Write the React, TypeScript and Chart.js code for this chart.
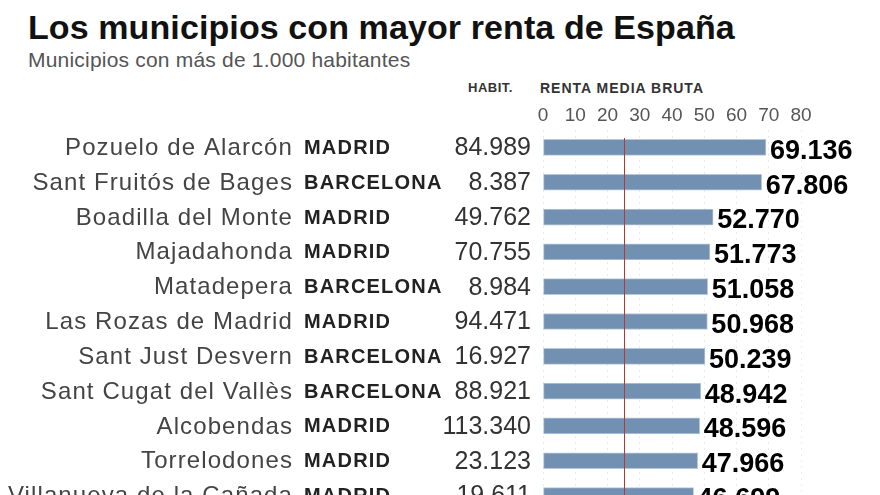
import React, { useEffect, useRef } from "react";
import { Chart, registerables } from "chart.js";

Chart.register(...registerables);

const municipios = [
  "Pozuelo de Alarcón",
  "Sant Fruitós de Bages",
  "Boadilla del Monte",
  "Majadahonda",
  "Matadepera",
  "Las Rozas de Madrid",
  "Sant Just Desvern",
  "Sant Cugat del Vallès",
  "Alcobendas",
  "Torrelodones",
  "Villanueva de la Cañada",
];
const provincias = [
  "MADRID",
  "BARCELONA",
  "MADRID",
  "MADRID",
  "BARCELONA",
  "MADRID",
  "BARCELONA",
  "BARCELONA",
  "MADRID",
  "MADRID",
  "MADRID",
];
const habitantes = [84989, 8387, 49762, 70755, 8984, 94471, 16927, 88921, 113340, 23123, 19611];
const rentaMedia = [69136, 67806, 52770, 51773, 51058, 50968, 50239, 48942, 48596, 47966, 46699];
const xTicks = [0, 10, 20, 30, 40, 50, 60, 70, 80];
const rentaReferencia = 25.2; // miles de euros (línea roja)

const fmt = (n: number) => String(n).replace(/\B(?=(\d{3})+(?!\d))/g, ".");

const FONT = '"Liberation Sans", Arial, Helvetica, sans-serif';

const tablePlugin = {
  id: "tablePlugin",
  afterDatasetsDraw(chart: any) {
    const { ctx, scales, chartArea } = chart;
    const x = scales.x;
    const y = scales.y;
    ctx.save();
    const rx = Math.round(x.getPixelForValue(rentaReferencia)) + 0.5;
    ctx.strokeStyle = "#b23a30";
    ctx.lineWidth = 1;
    ctx.beginPath();
    ctx.moveTo(rx, chartArea.top + 8);
    ctx.lineTo(rx, chartArea.bottom);
    ctx.stroke();

    ctx.textBaseline = "middle";
    municipios.forEach((name, i) => {
      const yy = y.getPixelForValue(i);
      ctx.font = `24px ${FONT}`;
      (ctx as any).letterSpacing = "1.1px";
      ctx.fillStyle = "#444";
      ctx.textAlign = "right";
      ctx.fillText(name, 293, yy + 1);
      ctx.font = `bold 20px ${FONT}`;
      (ctx as any).letterSpacing = "1.2px";
      ctx.fillStyle = "#222";
      ctx.textAlign = "left";
      ctx.fillText(provincias[i], 304, yy + 1);
      ctx.font = `25px ${FONT}`;
      (ctx as any).letterSpacing = "0px";
      ctx.fillStyle = "#333";
      ctx.textAlign = "right";
      ctx.fillText(fmt(habitantes[i]), 531, yy + 1);
      ctx.font = `bold 27px ${FONT}`;
      ctx.fillStyle = "#000";
      ctx.textAlign = "left";
      ctx.fillText(fmt(rentaMedia[i]), x.getPixelForValue(rentaMedia[i] / 1000) + 4, yy + 4);
    });
    ctx.restore();
  },
};

export default function App() {
  const ref = useRef<HTMLCanvasElement | null>(null);
  useEffect(() => {
    if (!ref.current) return;
    const chart = new Chart(ref.current, {
      type: "bar",
      data: {
        labels: municipios,
        datasets: [
          {
            data: rentaMedia.map((v) => v / 1000),
            backgroundColor: "#7190b2",
            borderColor: "#b8c8da",
            borderWidth: 1,
            borderSkipped: false,
            barThickness: 16,
          },
        ],
      },
      options: {
        indexAxis: "y",
        animation: false,
        responsive: false,
        devicePixelRatio: 1,
        layout: { padding: { left: 543, right: 79, top: 100, bottom: 17 } },
        plugins: { legend: { display: false }, tooltip: { enabled: false }, title: { display: false } },
        scales: {
          x: {
            position: "top",
            min: 0,
            max: 80,
            afterBuildTicks: (scale: any) => {
              scale.ticks = xTicks.map((v) => ({ value: v }));
            },
            afterFit: (scale: any) => {
              scale.height = 30;
            },
            ticks: {
              padding: 3,
              color: "#555",
              font: { family: FONT, size: 19 },
              maxRotation: 0,
              autoSkip: false,
            },
            grid: { color: "#ebebeb", drawTicks: false, lineWidth: 1 },
            border: { display: false, dash: [2, 4] },
          },
          y: { display: false, grid: { display: false } },
        },
      },
      plugins: [tablePlugin],
    } as any);
    return () => chart.destroy();
  }, []);

  return (
    <div
      style={{
        position: "fixed",
        left: 0,
        top: 0,
        width: 880,
        height: 495,
        overflow: "hidden",
        background: "#fff",
        fontFamily: FONT,
      }}
    >
      <div
        style={{
          position: "absolute",
          left: 28,
          top: 10,
          fontSize: 34,
          lineHeight: 1,
          fontWeight: "bold",
          color: "#111",
          letterSpacing: 0.1,
          whiteSpace: "nowrap",
        }}
      >
        Los municipios con mayor renta de España
      </div>
      <div
        style={{
          position: "absolute",
          left: 28,
          top: 49,
          fontSize: 21,
          lineHeight: 1,
          color: "#555",
          letterSpacing: 0.2,
          whiteSpace: "nowrap",
        }}
      >
        Municipios con más de 1.000 habitantes
      </div>
      <div
        style={{
          position: "absolute",
          left: 468,
          top: 81,
          fontSize: 13,
          lineHeight: 1,
          fontWeight: "bold",
          color: "#333",
          letterSpacing: 0.5,
          whiteSpace: "nowrap",
        }}
      >
        HABIT.
      </div>
      <div
        style={{
          position: "absolute",
          left: 540,
          top: 81,
          fontSize: 14,
          lineHeight: 1,
          fontWeight: "bold",
          color: "#333",
          letterSpacing: 1,
          whiteSpace: "nowrap",
        }}
      >
        RENTA MEDIA BRUTA
      </div>
      <canvas
        ref={ref}
        width={880}
        height={530}
        style={{ position: "absolute", left: 0, top: 0, width: 880, height: 530 }}
      />
    </div>
  );
}
